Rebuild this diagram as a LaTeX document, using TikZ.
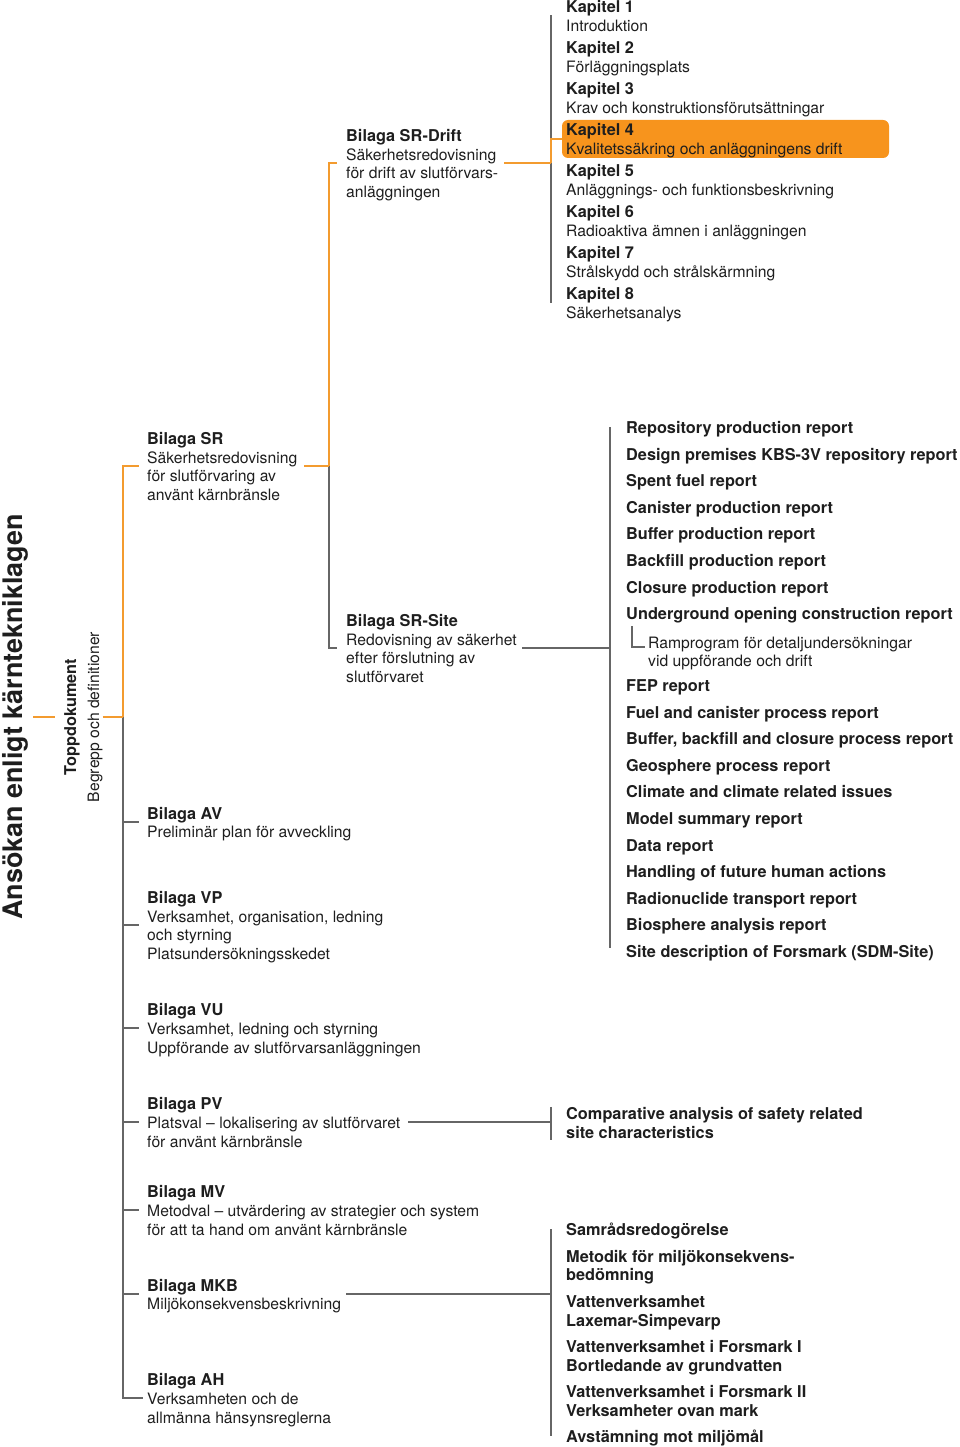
\documentclass[tikz,border=0pt]{standalone}
\usepackage{fontspec}
\setmainfont{TeX Gyre Heros}
\definecolor{ink}{HTML}{1E1E1E}
\definecolor{gln}{HTML}{666666}
\definecolor{oln}{HTML}{F39B2F}
\definecolor{obox}{HTML}{F7941D}
\newcommand\st{\rule[-3.5pt]{0pt}{18pt}}
\newcommand\F{\rule[-3.5pt]{0pt}{20pt}}
\newcommand\nl{\\\st}
\newcommand\B[1]{\F{\fontsize{16.3}{18.8}\selectfont\bfseries #1}}
\begin{document}
\begin{tikzpicture}[x=1pt,y=-1pt,
 txt/.style={anchor=west,align=left,inner sep=0pt,text=ink,font=\fontsize{15.7}{18.8}\selectfont},
 btxt/.style={txt,font=\fontsize{16.3}{18.8}\selectfont\bfseries},
 one/.style={btxt,execute at begin node=\F},
 rot/.style={rotate=90,anchor=base,inner sep=0pt,text=ink},
 gline/.style={draw=gln,line width=1.3pt},
 oline/.style={draw=oln,line width=2.2pt},
 kbox/.style={fill=obox,rounded corners=6pt,minimum width=327pt,minimum height=38pt,inner sep=0pt}]
\useasboundingbox (0,0) rectangle (960,1447);

% ---- left rotated texts
\node[rot,font=\fontsize{26.9}{30}\selectfont\bfseries] (title) at (22,717) {Ansökan enligt kärntekniklagen};
\node[rot,font=\fontsize{16.3}{18}\selectfont\bfseries] (topp) at (76,717) {Toppdokument};
\node[rot,font=\fontsize{15.7}{18}\selectfont] (begr) at (99,717) {Begrepp och definitioner};
\coordinate (jT) at (123,717);

% ---- left column
\node[txt] (sr)  at (147,466)  {\B{Bilaga SR}\nl Säkerhetsredovisning\nl för slutförvaring av\nl använt kärnbränsle};
\node[txt] (av)  at (147,822)  {\B{Bilaga AV}\nl Preliminär plan för avveckling};
\node[txt] (vp)  at (147,925)  {\B{Bilaga VP}\nl Verksamhet, organisation, ledning\nl och styrning\nl Platsundersökningsskedet};
\node[txt] (vu)  at (147,1028) {\B{Bilaga VU}\nl Verksamhet, ledning och styrning\nl Uppförande av slutförvarsanläggningen};
\node[txt] (pv)  at (147,1122) {\B{Bilaga PV}\nl Platsval – lokalisering av slutförvaret\nl för använt kärnbränsle};
\node[txt] (mv)  at (147,1210) {\B{Bilaga MV}\nl Metodval – utvärdering av strategier och system\nl för att ta hand om använt kärnbränsle};
\node[txt] (mkb) at (147,1294) {\B{Bilaga MKB}\nl Miljökonsekvensbeskrivning};
\node[txt] (ah)  at (147,1398) {\B{Bilaga AH}\nl Verksamheten och de\nl allmänna hänsynsreglerna};

% ---- middle column
\node[txt] (drift) at (346,163) {\B{Bilaga SR-Drift}\nl Säkerhetsredovisning\nl för drift av slutförvars-\nl anläggningen};
\node[txt] (site)  at (346,648) {\B{Bilaga SR-Site}\nl Redovisning av säkerhet\nl efter förslutning av\nl slutförvaret};
\coordinate (jS) at (329,466);

% ---- kapitel list
\node[kbox] (k4box) at (725.5,139) {};
\node[txt] (k1) at (566,15.5)  {\B{Kapitel 1}\nl Introduktion};
\node[txt] (k2) at (566,56.5)  {\B{Kapitel 2}\nl Förläggningsplats};
\node[txt] (k3) at (566,97.5)  {\B{Kapitel 3}\nl Krav och konstruktionsförutsättningar};
\node[txt] (k4) at (566,138.5) {\B{Kapitel 4}\nl Kvalitetssäkring och anläggningens drift};
\node[txt] (k5) at (566,179.5) {\B{Kapitel 5}\nl Anläggnings- och funktionsbeskrivning};
\node[txt] (k6) at (566,220.5) {\B{Kapitel 6}\nl Radioaktiva ämnen i anläggningen};
\node[txt] (k7) at (566,261.5) {\B{Kapitel 7}\nl Strålskydd och strålskärmning};
\node[txt] (k8) at (566,302.5) {\B{Kapitel 8}\nl Säkerhetsanalys};
\coordinate (jK) at (551,163);

% ---- SR-Site report list
\foreach \t [count=\i from 0] in {Repository production report,
  Design premises KBS-3V repository report, Spent fuel report,
  Canister production report, Buffer production report,
  Backfill production report, Closure production report,
  Underground opening construction report}
  \node[one] (u\i) at (626,427+26.6*\i) {\t};
\node[txt] (ramp) at (648,651) {\F Ramprogram för detaljundersökningar\nl vid uppförande och drift};
\foreach \t [count=\i from 0] in {FEP report, Fuel and canister process report,
  {Buffer, backfill and closure process report}, Geosphere process report,
  Climate and climate related issues, Model summary report, Data report,
  Handling of future human actions, Radionuclide transport report,
  Biosphere analysis report, Site description of Forsmark (SDM-Site)}
  \node[one] (f\i) at (626,685+26.6*\i) {\t};
\coordinate (jR) at (610,648);

% ---- PV / MKB lists
\node[btxt] (comp) at (566,1122.5) {\F Comparative analysis of safety related\nl site characteristics};
\coordinate (jP) at (551,1122);
\node[one]  (m1) at (566,1229)   {Samrådsredogörelse};
\node[btxt] (m2) at (566,1265)   {\F Metodik för miljökonsekvens-\nl bedömning};
\node[btxt] (m3) at (566,1310.5) {\F Vattenverksamhet\nl Laxemar-Simpevarp};
\node[btxt] (m4) at (566,1355.5) {\F Vattenverksamhet i Forsmark I\nl Bortledande av grundvatten};
\node[btxt] (m5) at (566,1400.5) {\F Vattenverksamhet i Forsmark II\nl Verksamheter ovan mark};
\node[one]  (m6) at (566,1436)   {Avstämning mot miljömål};
\coordinate (jM) at (551,1294);

% ---- connectors: gray
\draw[gline,shorten >=4pt] (jT) |- (ah.west);
\foreach \n in {av,vp,vu,pv,mv,mkb}
  \draw[gline,shorten >=8pt] (jT |- \n.west) -- (\n.west);
\draw[gline,shorten >=9pt] (jS) |- (site.west);
\draw[gline] (jK |- k1.west) -- (jK |- k8.west);
\draw[gline,shorten <=5pt] (site.east) -- (jR);
\draw[gline] (jR |- u0.west) -- ([yshift=3pt]jR |- f10.west);
\draw[gline] ([xshift=-16pt,yshift=25pt]ramp.west) |- ([xshift=-3pt,yshift=4pt]ramp.west);
\draw[gline,shorten <=8pt] (pv.east |- jP) -- (jP);
\draw[gline,shorten <=4pt,shorten >=2pt] (jP |- comp.north) -- (jP |- comp.south);
\draw[gline,shorten <=5pt] (mkb.east |- jM) -- (jM);
\draw[gline] (jM |- m1.west) -- (jM |- m6.west);

% ---- connectors: orange
\draw[oline,shorten <=5pt,shorten >=9pt] (title.south) -- (title.south -| topp.north);
\draw[oline] (begr.south) -- (jT);
\draw[oline,shorten >=8pt] (jT) |- (sr.west);
\draw[oline,shorten <=7pt] (sr.east) -- (jS);
\draw[oline,shorten >=9pt] (jS) |- (drift.west);
\draw[oline,shorten <=6pt] (drift.east) -- (jK);
\draw[oline] (jK) |- (k4box.west);
\end{tikzpicture}
\end{document}
